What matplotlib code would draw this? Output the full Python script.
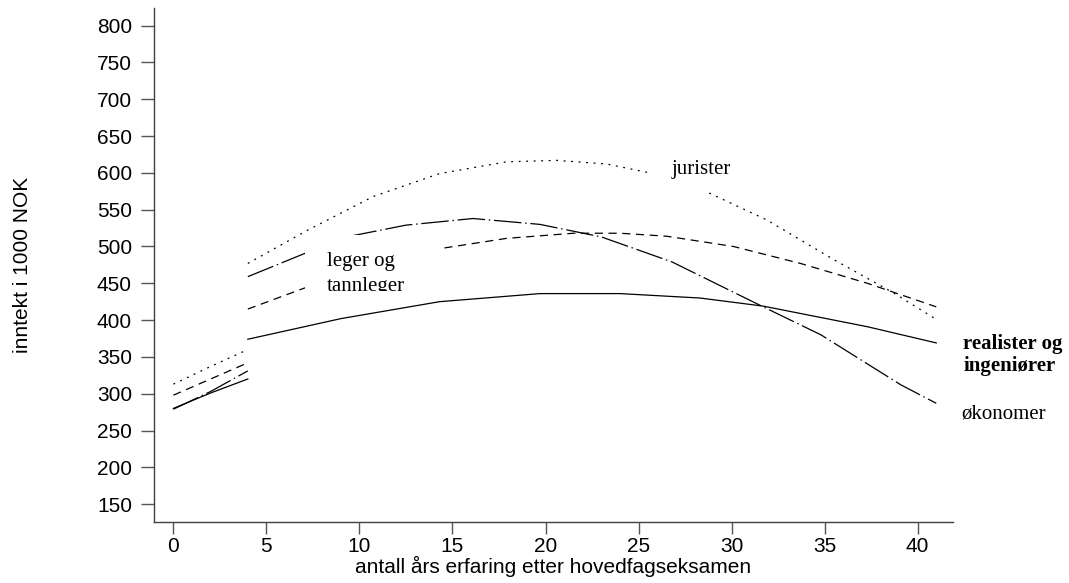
import matplotlib
matplotlib.use("Agg")
import matplotlib.pyplot as plt
from matplotlib.patches import Rectangle

# first years after the exam (separate short segments)
Years_Early = [0, 2, 4]
Jurister_Early = [313, 337, 360]
Leger_Early = [298, 320, 342]
Okonomer_Early = [279, 303, 331]
Realister_Early = [280, 301, 320]

# main curves, 4 to 41 years
Years_Jurister = [4, 7.2, 10.75, 14.3, 17.9, 20.6, 23.3, 25.6, 27.2, 28.85, 31.9, 35.5, 38.7, 41]
Jurister = [477, 522, 568, 599, 615, 617, 612, 600, 588, 572, 536, 482, 437, 401]

Years_Okonomer = [4, 7.2, 9.1, 12.5, 16.1, 19.7, 23, 26.8, 31.7, 34.8, 39.1, 41]
Okonomer = [459, 492, 512, 529, 538, 530, 513, 479, 418, 380, 312, 287]

Years_Leger = [4, 7.2, 10.5, 14.3, 17.9, 21.5, 24, 26.5, 30.1, 33.7, 37.3, 41]
Leger = [415, 445, 474, 497, 511, 518, 518, 514, 500, 477, 450, 418]

Years_Realister = [4, 9, 14.3, 19.7, 24, 28.3, 31.7, 37.3, 41]
Realister = [374, 402, 425, 436, 436, 430, 419, 391, 369]

Y_Ticks = [150, 200, 250, 300, 350, 400, 450, 500, 550, 600, 650, 700, 750, 800]
X_Ticks = [0, 5, 10, 15, 20, 25, 30, 35, 40]

SANS = "Liberation Sans"
SERIF = "Liberation Serif"

DOT = (0, (1.5, 4.5))
DASH = (0, (6.5, 4.5))
LONGDASH = (0, (22, 3, 1.2, 3))

fig = plt.figure(figsize=(10.69, 5.83), dpi=100)
ax = fig.add_axes([0.1441, 0.1046, 0.7474, 0.8812])

lw = 0.9
ax.plot(Years_Early, Jurister_Early, color="black", lw=lw, linestyle=DOT)
ax.plot(Years_Early, Leger_Early, color="black", lw=lw, linestyle=DASH)
ax.plot(Years_Early, Okonomer_Early, color="black", lw=lw, linestyle=LONGDASH)
ax.plot(Years_Early, Realister_Early, color="black", lw=lw)

ax.plot(Years_Jurister, Jurister, color="black", lw=lw, linestyle=DOT)
ax.plot(Years_Leger, Leger, color="black", lw=lw, linestyle=DASH)
ax.plot(Years_Okonomer, Okonomer, color="black", lw=lw, linestyle=LONGDASH)
ax.plot(Years_Realister, Realister, color="black", lw=lw)

ax.set_xlim(-1.04, 41.9)
ax.set_ylim(125.7, 823.6)
ax.set_xticks(X_Ticks)
ax.set_yticks(Y_Ticks)

for side in ["top", "right"]:
    ax.spines[side].set_visible(False)
for side in ["left", "bottom"]:
    ax.spines[side].set_color("#404040")
    ax.spines[side].set_linewidth(1)

ax.tick_params(axis="y", length=9.4, width=1, color="#555555", pad=6.5, labelsize=15)
ax.tick_params(axis="x", length=8.6, width=1, color="#555555", pad=2, labelsize=15)
for lab in ax.get_xticklabels() + ax.get_yticklabels():
    lab.set_fontfamily(SANS)

ax.set_ylabel("inntekt i 1000 NOK", fontsize=15, fontfamily=SANS)
ax.yaxis.set_label_coords(-0.153, 0.5)
ax.set_xlabel("antall års erfaring etter hovedfagseksamen", fontsize=15, fontfamily=SANS, labelpad=0)

# white label boxes cover the curves under the text
box1 = Rectangle((7.08, 439.5), 7.26, 76.1, facecolor="white", edgecolor="none", zorder=3)
ax.add_patch(box1)
t1 = ax.text(8.26, 479, "leger og", fontsize=15, fontfamily=SERIF, va="center", ha="left", zorder=4)
t2 = ax.text(8.26, 445, "tannleger", fontsize=15, fontfamily=SERIF, va="center", ha="left", zorder=4)
for t in [t1, t2]:
    t.set_clip_on(True)
    t.set_clip_path(box1)

box2 = Rectangle((25.6, 574), 5.9, 60, facecolor="white", edgecolor="none", zorder=3)
ax.add_patch(box2)
ax.text(26.8, 604, "jurister", fontsize=15, fontfamily=SERIF, va="center", ha="left", zorder=4)

ax.text(42.46, 352.6, "realister og\ningeniører", fontsize=15, fontfamily=SERIF, fontweight="bold",
        va="center", ha="left", linespacing=1.15, clip_on=False)
ax.text(42.35, 272.5, "økonomer", fontsize=15, fontfamily=SERIF, va="center", ha="left", clip_on=False)

plt.savefig("out.png", dpi=100)
